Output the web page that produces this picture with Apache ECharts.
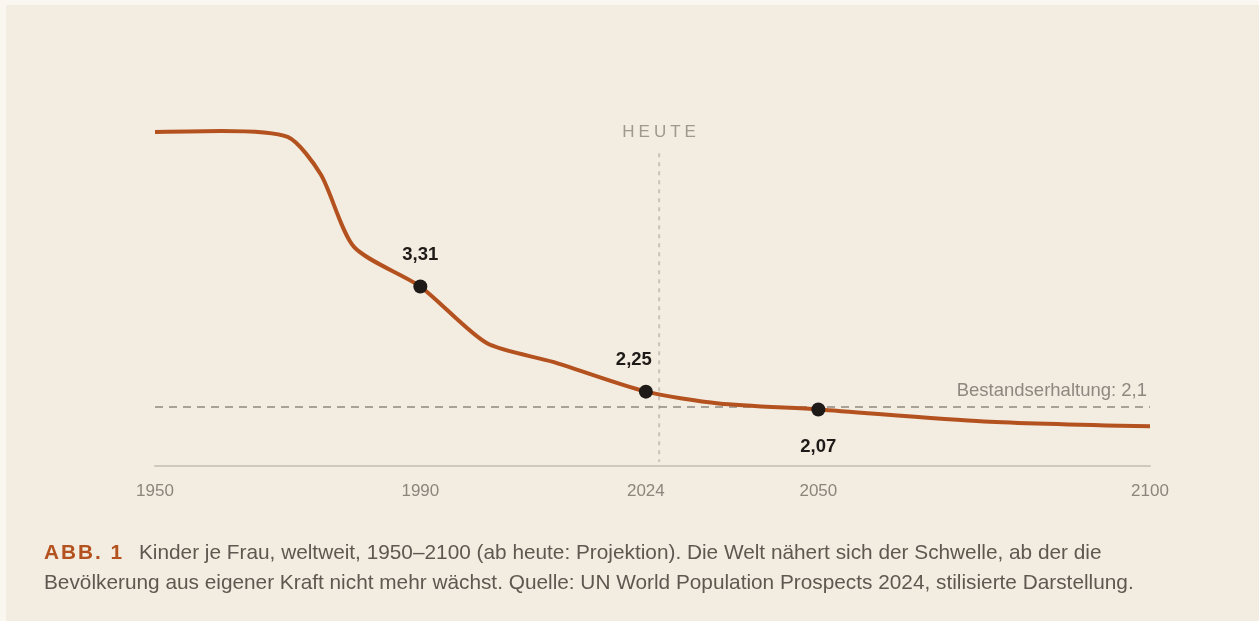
<!DOCTYPE html>
<html><head><meta charset="utf-8">
<script src="https://cdn.jsdelivr.net/npm/echarts@6/dist/echarts.min.js"></script>
<style>
html,body{margin:0;padding:0;background:#faf6f0;width:1259px;height:621px;overflow:hidden;font-family:"Liberation Sans",Arial,Helvetica,sans-serif;}
#panel{position:absolute;left:6px;top:5px;width:1253px;height:616px;background:#f3ece1;}
#chart{position:absolute;left:0;top:0;width:1253px;height:616px;}
#caption{position:absolute;left:38px;top:532px;width:1210px;font-size:20.8px;line-height:30px;color:#5f5850;white-space:nowrap;}
#caption b{color:#b4521f;letter-spacing:2px;margin-right:9px;}
</style>
</head>
<body>
<div id="panel">
  <div id="chart"></div>
  <div id="caption"><b>ABB. 1</b> Kinder je Frau, weltweit, 1950–2100 (ab heute: Projektion). Die Welt nähert sich der Schwelle, ab der die<br>Bevölkerung aus eigener Kraft nicht mehr wächst. Quelle: UN World Population Prospects 2024, stilisierte Darstellung.</div>
</div>
<script>
// ---- data ----
const years = [1950, 1960, 1970, 1975, 1980, 1990, 2000, 2010, 2024, 2035, 2050, 2075, 2100];
const fertility = [4.87, 4.88, 4.82, 4.44, 3.71, 3.31, 2.74, 2.55, 2.25, 2.13, 2.07, 1.95, 1.90];
const highlightYears = [1990, 2024, 2050];
const highlightValues = [3.31, 2.25, 2.07];
const highlightLabels = ['3,31', '2,25', '2,07'];
const tickYears = [1950, 1990, 2024, 2050, 2100];
const replacementLevel = 2.1;
const replacementLabel = 'Bestandserhaltung: 2,1';
const todayYear = 2026;
const todayLabel = 'HEUTE';

// ---- styles ----
const FONT = '"Liberation Sans", Arial, Helvetica, sans-serif';
const LINE_COLOR = '#b4521f';
const DOT_COLOR = '#1e1a17';
const GRAY = '#8c857c';

const chart = echarts.init(document.getElementById('chart'), null, {renderer: 'canvas'});

const labelPlacement = [
  {position: 'top', distance: 15, offset: [0, 0]},
  {position: 'top', distance: 15, offset: [-12, 0]},
  {position: 'bottom', distance: 21, offset: [0, 0]}
];

const option = {
  backgroundColor: '#f3ece1',
  animation: false,
  textStyle: {fontFamily: FONT},
  grid: {left: 149, right: 109, top: 114, bottom: 155, containLabel: false},
  xAxis: {
    type: 'value', min: 1950, max: 2100,
    axisLine: {show: true, lineStyle: {color: '#cfc7ba', width: 2}},
    axisTick: {show: false},
    splitLine: {show: false},
    axisLabel: {
      customValues: tickYears, color: GRAY, fontSize: 17, fontFamily: FONT, margin: 17,
      formatter: v => String(v), showMinLabel: true, showMaxLabel: true
    }
  },
  yAxis: {type: 'value', min: 1.5, max: 5, show: false},
  series: [
    {
      type: 'line', z: 1, silent: true,
      data: [[todayYear, 4.655], [todayYear, 1.54]],
      symbol: 'none',
      lineStyle: {color: '#cbc3b8', width: 2, type: [4, 5]}
    },
    {
      type: 'scatter', z: 1, silent: true,
      data: [[todayYear, 4.87]],
      symbolSize: 0,
      label: {
        show: true, position: 'inside',
        formatter: todayLabel.split('').map(c => '{a|' + c + '}').join(''),
        rich: {a: {fontSize: 17, color: '#8a8379', padding: [0, 2, 0, 2], fontFamily: FONT}}
      }
    },
    {
      type: 'line', z: 3,
      data: years.map((y, i) => [y, fertility[i]]),
      smooth: 0.25,
      showSymbol: false, symbol: 'none',
      lineStyle: {color: LINE_COLOR, width: 4},
      markLine: {
        silent: true, symbol: 'none', z: 2,
        lineStyle: {type: [8, 6], color: '#8e8880', width: 1.5},
        label: {
          show: true, position: 'insideEndTop', formatter: replacementLabel,
          color: '#8e8880', fontSize: 18.5, fontFamily: FONT, distance: [3, 6]
        },
        data: [{yAxis: replacementLevel}]
      }
    },
    {
      type: 'scatter', z: 5, silent: true,
      symbolSize: 14,
      itemStyle: {color: DOT_COLOR, opacity: 1},
      data: highlightYears.map((y, i) => ({
        value: [y, highlightValues[i]],
        label: Object.assign({
          show: true, formatter: highlightLabels[i],
          color: DOT_COLOR, fontSize: 18.5, fontWeight: 'bold', fontFamily: FONT
        }, labelPlacement[i])
      }))
    }
  ]
};
chart.setOption(option);
</script>
</body></html>
